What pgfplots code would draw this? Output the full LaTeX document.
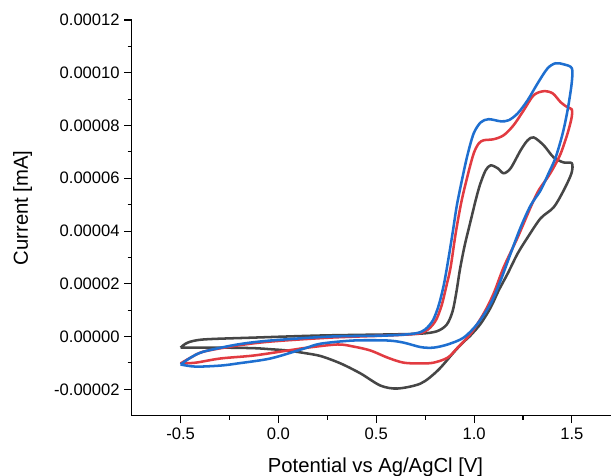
\documentclass[border=0pt]{standalone}
\usepackage{pgfplots}
\pgfplotsset{compat=1.18}
\usepackage{fontspec}
\setmainfont{Liberation Sans}
\definecolor{cvgray}{RGB}{70,70,70}
\definecolor{cvred}{RGB}{226,59,65}
\definecolor{cvblue}{RGB}{30,111,208}

\pgfplotstableread{
x y
-0.500 -0.42e-5
-0.464 -0.23e-5
-0.382 -0.11e-5
-0.127 -0.04e-5
0.216 0.04e-5
0.558 0.08e-5
0.727 0.11e-5
0.810 0.20e-5
0.860 0.45e-5
0.890 0.95e-5
0.910 1.70e-5
0.928 2.55e-5
0.952 3.45e-5
0.983 4.40e-5
1.008 5.16e-5
1.030 5.75e-5
1.059 6.30e-5
1.085 6.49e-5
1.121 6.38e-5
1.151 6.19e-5
1.187 6.38e-5
1.238 7.06e-5
1.274 7.44e-5
1.305 7.55e-5
1.356 7.25e-5
1.407 6.79e-5
1.458 6.60e-5
1.500 6.57e-5
1.498 6.19e-5
1.458 5.54e-5
1.407 4.90e-5
1.340 4.48e-5
1.274 3.76e-5
1.223 3.15e-5
1.172 2.39e-5
1.126 1.75e-5
1.085 1.10e-5
1.034 0.49e-5
0.983 0.05e-5
0.940 -0.25e-5
0.896 -0.60e-5
0.814 -1.29e-5
0.727 -1.78e-5
0.609 -1.97e-5
0.522 -1.86e-5
0.420 -1.40e-5
0.318 -1.02e-5
0.216 -0.74e-5
0.129 -0.62e-5
0.047 -0.53e-5
-0.040 -0.48e-5
-0.127 -0.44e-5
-0.295 -0.42e-5
-0.500 -0.42e-5
}\graydata

\pgfplotstableread{
x y
-0.500 -1.02e-5
-0.449 -0.80e-5
-0.382 -0.57e-5
-0.209 -0.34e-5
-0.040 -0.19e-5
0.267 -0.04e-5
0.558 0.04e-5
0.712 0.11e-5
0.765 0.27e-5
0.805 0.62e-5
0.835 1.20e-5
0.858 1.90e-5
0.880 2.62e-5
0.906 3.91e-5
0.935 5.10e-5
0.967 6.10e-5
0.998 6.94e-5
1.024 7.32e-5
1.049 7.44e-5
1.100 7.48e-5
1.151 7.63e-5
1.202 8.01e-5
1.254 8.58e-5
1.305 9.15e-5
1.356 9.30e-5
1.402 9.22e-5
1.443 8.88e-5
1.478 8.69e-5
1.500 8.61e-5
1.499 8.31e-5
1.478 7.70e-5
1.443 6.94e-5
1.407 6.41e-5
1.376 6.03e-5
1.330 5.54e-5
1.289 4.90e-5
1.223 3.76e-5
1.151 2.62e-5
1.100 1.63e-5
1.049 0.87e-5
0.983 0.11e-5
0.916 -0.42e-5
0.865 -0.80e-5
0.793 -0.99e-5
0.727 -1.02e-5
0.640 -0.99e-5
0.558 -0.80e-5
0.471 -0.53e-5
0.384 -0.38e-5
0.303 -0.30e-5
0.149 -0.42e-5
0.047 -0.53e-5
-0.127 -0.72e-5
-0.295 -0.83e-5
-0.423 -0.99e-5
-0.500 -1.02e-5
}\reddata

\pgfplotstableread{
x y
-0.500 -1.06e-5
-0.449 -0.80e-5
-0.382 -0.57e-5
-0.209 -0.30e-5
-0.040 -0.15e-5
0.267 0.00e-5
0.558 0.04e-5
0.700 0.12e-5
0.750 0.27e-5
0.790 0.62e-5
0.820 1.20e-5
0.845 1.95e-5
0.865 2.77e-5
0.890 3.91e-5
0.912 4.97e-5
0.940 6.00e-5
0.967 6.90e-5
0.998 7.70e-5
1.034 8.12e-5
1.075 8.24e-5
1.136 8.16e-5
1.177 8.20e-5
1.223 8.46e-5
1.274 8.96e-5
1.325 9.60e-5
1.376 10.17e-5
1.417 10.36e-5
1.458 10.32e-5
1.500 10.17e-5
1.499 9.60e-5
1.478 8.58e-5
1.453 7.70e-5
1.417 6.79e-5
1.381 6.19e-5
1.340 5.54e-5
1.289 4.97e-5
1.238 4.14e-5
1.187 3.15e-5
1.136 2.13e-5
1.085 1.25e-5
1.018 0.49e-5
0.947 -0.04e-5
0.865 -0.30e-5
0.793 -0.42e-5
0.727 -0.40e-5
0.640 -0.23e-5
0.558 -0.15e-5
0.384 -0.15e-5
0.216 -0.27e-5
0.129 -0.46e-5
-0.040 -0.83e-5
-0.209 -1.02e-5
-0.295 -1.10e-5
-0.423 -1.14e-5
-0.500 -1.06e-5
}\bluedata

\begin{document}
\begin{tikzpicture}
\begin{axis}[
  scale only axis,
  width=359.5pt, height=296.8pt,
  xmin=-0.75, xmax=1.7,
  ymin=-0.00003, ymax=0.00012,
  axis x line=bottom, axis y line=left,
  axis line style={-, line width=0.8pt, black},
  tick align=outside,
  major tick length=5.5pt, minor tick length=3pt,
  tick style={line width=0.8pt, black},
  xtick={-0.5,0,0.5,1,1.5}, minor x tick num=1,
  ytick={-0.00002,0,0.00002,0.00004,0.00006,0.00008,0.0001,0.00012},
  minor y tick num=1,
  scaled y ticks=false,
  /pgf/number format/assume math mode=true,
  xticklabel style={font=\fontsize{12.45}{14}\selectfont,
    /pgf/number format/.cd, fixed, fixed zerofill, precision=1},
  yticklabel style={font=\fontsize{12.45}{14}\selectfont,
    /pgf/number format/.cd, fixed, fixed zerofill, precision=5},
  xlabel={Potential vs Ag/AgCl [V]},
  ylabel={Current [mA]},
  label style={font=\fontsize{15.2}{18}\selectfont},
  xlabel style={at={(axis description cs:0.5087,-0.105)}, anchor=north, inner sep=0pt},
  ylabel style={at={(axis description cs:-0.2477,0.525)}, anchor=north, inner sep=0pt},
  clip=false,
]
\addplot[cvgray, line width=1.9pt, smooth, tension=0.5, line join=round] table {\graydata};
\addplot[cvred, line width=1.9pt, smooth, tension=0.5, line join=round] table {\reddata};
\addplot[cvblue, line width=1.9pt, smooth, tension=0.5, line join=round] table {\bluedata};
\end{axis}
\pgfresetboundingbox
\path (-98.8pt,-45.2pt) rectangle (359.5pt,311.8pt);
\end{tikzpicture}
\end{document}
